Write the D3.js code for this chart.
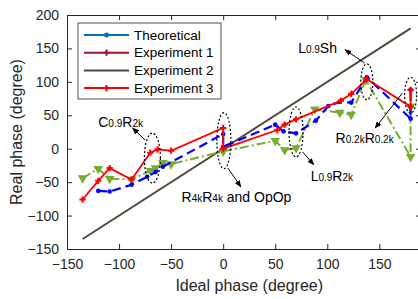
<!DOCTYPE html>
<html>
<head>
<meta charset="utf-8">
<script src="https://cdn.jsdelivr.net/npm/d3@7"></script>
<style>
  body { margin: 0; background: #fff; }
  svg { display: block; font-family: "Liberation Sans", Arial, sans-serif; }
  .axis text { font-size: 14px; fill: #262626; }
  .axis path, .axis line { stroke: #262626; }
</style>
</head>
<body>
<script>
var xTicks = [-150, -100, -50, 0, 50, 100, 150];
var yTicks = [-150, -100, -50, 0, 50, 100, 150, 200];

// ideal line (y = x)
var idealPhase = [-135, 180];

// red solid, plus markers
var redX = [-135, -120, -109, -88, -70, -63, -50, 0, 0, 52, 59, 70, 113, 123, 138, 180, 180];
var redY = [-76, -48, -29, -46, -6, -1, -3, 31, 0, 28, 36, 44, 72, 82, 104, 63, 88];

// blue dashed, dot markers
var blueX = [-120, -109, -88, -73, -65, -58, 0, 0, 50, 58, 70, 89, 101, 112, 123, 138, 180, 180];
var blueY = [-63, -64, -54, -42, -35, -27, 22, 3, 36, 26, 23, 42, 64, 70, 69, 107, 45, 88];

// green dash-dot, triangle markers
var greenX = [-135, -120, -109, -88, -70, -65, -58, -50, 0, 50, 59, 70, 88, 112, 123, 137, 180, 180];
var greenY = [-44, -30, -45, -46, -33, -29, -21, -23, -4, 12, -2, 1, 59, 54, 51, 103, -12, 63];

var legendNames = ["Theoretical", "Experiment 1", "Experiment 2", "Experiment 3"];
var legendColors = ["#0072bd", "#a2142f", "#54483a", "#ff0000"];
var legendMarks = ["circle", "plus", "none", "plus"];

var rings = [[-68, -14, 8, 25], [0.7, 12, 7, 28], [70, 25, 7, 25], [138, 100, 6, 18], [180, 80, 6, 18]];
var notes = [
  {x: -120, y: 33, parts: [["C", 0], ["0.9", 1], ["R", 0], ["2k", 1]]},
  {x: -40, y: -80, parts: [["R", 0], ["4k", 1], ["R", 0], ["4k", 1], [" and OpOp", 0]]},
  {x: 84, y: -48, parts: [["L", 0], ["0.9", 1], ["R", 0], ["2k", 1]]},
  {x: 72, y: 143, parts: [["L", 0], ["0.9", 1], ["Sh", 0]]},
  {x: 108, y: 9, parts: [["R", 0], ["0.2k", 1], ["R", 0], ["0.2k", 1]]}
];
var arrows = [[-75, 13, -87, 31], [4.5, -29, 17, -57], [76.5, -5, 87, -24], [136, 128, 117, 148], [172, 83, 146, 31]];

var W = 418, H = 299;
var margin = {top: 15, left: 67, right: -3, bottom: 50};
var width = W - margin.left - margin.right,
    height = H - margin.top - margin.bottom;

var x = d3.scaleLinear().domain([-150, 190]).range([0, width]);
var y = d3.scaleLinear().domain([-150, 200]).range([height, 0]);

var root = d3.select("body").append("svg")
    .attr("width", W)
    .attr("height", H);

var svg = root.append("g")
    .attr("transform", "translate(" + margin.left + "," + margin.top + ")");

// box and ticks (inward)
svg.append("g").attr("class", "axis")
    .attr("transform", "translate(0," + height + ")")
    .call(d3.axisBottom(x).tickValues(xTicks).tickSizeInner(-5).tickSizeOuter(0).tickPadding(10))
    .select(".domain").attr("stroke-width", 1);
svg.append("g").attr("class", "axis")
    .call(d3.axisLeft(y).tickValues(yTicks).tickSizeInner(-5).tickSizeOuter(0).tickPadding(8));
svg.append("g").attr("class", "axis")
    .call(d3.axisTop(x).tickValues(xTicks).tickSizeInner(-5).tickSizeOuter(0).tickFormat(""));
svg.append("g").attr("class", "axis")
    .attr("transform", "translate(" + width + ",0)")
    .call(d3.axisRight(y).tickValues(yTicks).tickSizeInner(-5).tickSizeOuter(0).tickFormat(""));

var line = d3.line().x(d => x(d[0])).y(d => y(d[1]));

// ideal
svg.append("path")
    .attr("d", line(idealPhase.map(v => [v, v])))
    .attr("fill", "none")
    .attr("stroke", "#54483a")
    .attr("stroke-width", 2);

var green = greenX.map((v, i) => [v, greenY[i]]);
var blue = blueX.map((v, i) => [v, blueY[i]]);
var red = redX.map((v, i) => [v, redY[i]]);

svg.append("path")
    .attr("d", line(green))
    .attr("fill", "none")
    .attr("stroke", "#77ac30")
    .attr("stroke-width", 2)
    .attr("stroke-dasharray", "9,3,2,3");
svg.selectAll(".tri")
    .data(green)
    .enter().append("path")
    .attr("class", "tri")
    .attr("d", d3.symbol().type(d3.symbolTriangle).size(40))
    .attr("transform", d => "translate(" + x(d[0]) + "," + y(d[1]) + ") rotate(180)")
    .attr("fill", "#77ac30");

svg.append("path")
    .attr("d", line(blue))
    .attr("fill", "none")
    .attr("stroke", "#0000ff")
    .attr("stroke-width", 2.2)
    .attr("stroke-dasharray", "9,5");
svg.selectAll(".dot")
    .data(blue)
    .enter().append("circle")
    .attr("class", "dot")
    .attr("cx", d => x(d[0]))
    .attr("cy", d => y(d[1]))
    .attr("r", 2.3)
    .attr("fill", "#0000ff");

svg.append("path")
    .attr("d", line(red))
    .attr("fill", "none")
    .attr("stroke", "#ff0000")
    .attr("stroke-width", 1.8);
svg.selectAll(".plus")
    .data(red)
    .enter().append("path")
    .attr("class", "plus")
    .attr("d", d3.symbol().type(d3.symbolCross).size(22))
    .attr("transform", d => "translate(" + x(d[0]) + "," + y(d[1]) + ")")
    .attr("fill", "#ff0000");

// dotted rings
svg.selectAll(".ring")
    .data(rings)
    .enter().append("ellipse")
    .attr("cx", d => x(d[0]))
    .attr("cy", d => y(d[1]))
    .attr("rx", d => d[2])
    .attr("ry", d => d[3])
    .attr("fill", "none")
    .attr("stroke", "#000")
    .attr("stroke-width", 1.2)
    .attr("stroke-dasharray", "2,2");

// arrows
root.append("defs").append("marker")
    .attr("id", "head")
    .attr("viewBox", "0 0 10 10")
    .attr("refX", 9).attr("refY", 5)
    .attr("markerWidth", 7).attr("markerHeight", 7)
    .attr("orient", "auto")
    .append("path").attr("d", "M0,1L10,5L0,9Z").attr("fill", "#000");

svg.selectAll(".arrow")
    .data(arrows)
    .enter().append("line")
    .attr("x1", d => x(d[0])).attr("y1", d => y(d[1]))
    .attr("x2", d => x(d[2])).attr("y2", d => y(d[3]))
    .attr("stroke", "#000")
    .attr("stroke-width", 1)
    .attr("marker-end", "url(#head)");

// annotation text
notes.forEach(function(n) {
    var t = svg.append("text")
        .attr("x", x(n.x))
        .attr("y", y(n.y))
        .attr("fill", "#000");
    n.parts.forEach(function(p) {
        t.append("tspan")
            .attr("font-size", p[1] ? 10 : 14)
            .text(p[0]);
    });
});

// axis labels
root.append("text")
    .attr("x", margin.left + x(25))
    .attr("y", 291)
    .attr("text-anchor", "middle")
    .attr("font-size", 16)
    .attr("fill", "#262626")
    .text("Ideal phase (degree)");
root.append("text")
    .attr("transform", "translate(22," + (margin.top + y(25)) + ") rotate(-90)")
    .attr("text-anchor", "middle")
    .attr("font-size", 16)
    .attr("fill", "#262626")
    .text("Real phase (degree)");

// legend
var lg = svg.append("g").attr("transform", "translate(11,8)");
lg.append("rect")
    .attr("width", 143)
    .attr("height", 76)
    .attr("fill", "#fff")
    .attr("stroke", "#262626")
    .attr("stroke-width", 0.8);
var row = lg.selectAll(".row")
    .data(legendNames)
    .enter().append("g")
    .attr("transform", (d, i) => "translate(0," + (12 + i * 17.7) + ")");
row.append("line")
    .attr("x1", 6).attr("x2", 51)
    .attr("stroke", (d, i) => legendColors[i])
    .attr("stroke-width", 2);
row.filter((d, i) => legendMarks[i] == "circle").append("circle")
    .attr("cx", 28.5).attr("r", 2.5)
    .attr("fill", (d, i) => legendColors[0]);
row.filter((d, i) => legendMarks[i] == "plus").append("path")
    .attr("d", d3.symbol().type(d3.symbolCross).size(22))
    .attr("transform", "translate(28.5,0)")
    .attr("fill", function(d) { return legendColors[legendNames.indexOf(d)]; });
row.append("text")
    .attr("x", 56)
    .attr("dy", "0.35em")
    .attr("font-size", 13.5)
    .attr("fill", "#000")
    .text(d => d);
</script>
</body>
</html>
